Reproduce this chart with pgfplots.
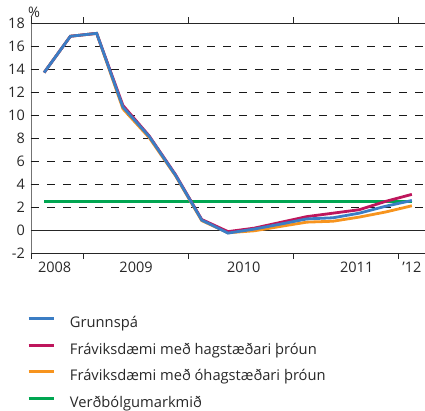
\documentclass[border=0pt]{standalone}
\usepackage{pgfplots}
\pgfplotsset{compat=1.18}
\usepackage{fontspec}
\setmainfont{Open Sans}
\definecolor{cblue}{RGB}{59,125,196}
\definecolor{cred}{RGB}{190,22,92}
\definecolor{corange}{RGB}{247,148,30}
\definecolor{cgreen}{RGB}{0,166,81}
\definecolor{ctext}{RGB}{40,40,40}
\begin{document}
\begin{tikzpicture}
\path[use as bounding box] (-31pt,-157.5pt) rectangle (394pt,253.5pt);
\begin{axis}[
  at={(0,0)}, anchor=south west,
  scale only axis,
  width=394pt, height=230.5pt,
  xmin=-0.5, xmax=14.5,
  ymin=-2, ymax=18,
  axis x line*=box,
  axis y line*=left,
  axis line style={black!85, line width=0.9pt},
  x axis line style={-},
  y axis line style={-, black!55},
  major tick length=5.5pt,
  xtick={-0.5,1.5,5.5,9.5,13.5},
  xticklabels={},
  xtick align=outside,
  xtick style={black!85, line width=0.9pt},
  extra x ticks={0.4,3.5,7.6,11.9,14.0},
  extra x tick labels={2008,2009,2010,2011,{'}12},
  extra x tick style={major tick length=0pt, xticklabel style={yshift=-8pt}},
  ytick={-2,0,...,18},
  ytick style={black!85, line width=0.9pt},
  ytick align=inside,
  yticklabel style={inner sep=0pt, xshift=-6pt},
  tick label style={font=\fontsize{14.5}{16}\selectfont, text=ctext},
  /pgf/number format/assume math mode=true,
  xticklabel style={inner sep=0pt, anchor=north},
  legend style={
    at={(axis description cs:0,0)}, anchor=north west,
    xshift=-4pt, yshift=-62pt,
    draw=none, fill=none, inner sep=0pt,
    font=\fontsize{14.7}{17}\selectfont,
    text=ctext,
    row sep=10.5pt,
    column sep=15pt,
    nodes={inner sep=0pt, text height=12pt, text depth=4pt},
  },
  legend cell align=left,
  legend image code/.code={\draw[#1] (0pt,5pt) -- (25pt,5pt);},
  clip=false,
  gridline/.style={black!90, line width=1pt, dash pattern=on 8pt off 8pt, dash phase=0pt, forget plot},
]
\addlegendimage{cblue, line width=2.8pt}
\addlegendentry{Grunnspá}
\addlegendimage{cred, line width=2.8pt}
\addlegendentry{Fráviksdæmi með hagstæðari þróun}
\addlegendimage{corange, line width=2.8pt}
\addlegendentry{Fráviksdæmi með óhagstæðari þróun}
\addlegendimage{cgreen, line width=2.8pt}
\addlegendentry{Verðbólgumarkmið}

% grid lines
\addplot[gridline] coordinates {(-0.5,2) (14.5,2)};
\addplot[gridline] coordinates {(-0.5,4) (14.5,4)};
\addplot[gridline] coordinates {(-0.5,6) (14.5,6)};
\addplot[gridline] coordinates {(-0.5,8) (14.5,8)};
\addplot[gridline] coordinates {(-0.5,10) (14.5,10)};
\addplot[gridline] coordinates {(-0.5,12) (14.5,12)};
\addplot[gridline] coordinates {(-0.5,14) (14.5,14)};
\addplot[gridline] coordinates {(-0.5,16) (14.5,16)};
% zero line and top line
\addplot[black!85, line width=0.9pt, forget plot] coordinates {(-0.5,0) (14.5,0)};
\addplot[black!85, line width=0.9pt, forget plot] coordinates {(-0.5,18) (14.5,18)};
% Verðbólgumarkmið
\addplot[cgreen, line width=2.8pt, forget plot] coordinates {(0,2.5) (14,2.5)};
% óhagstæðari
\addplot[corange, line width=2.8pt, forget plot] coordinates {
(0,13.7) (1,16.85) (2,17.1) (3,10.55) (4,8.05) (5,4.75) (6,0.85) (7,-0.2) (8,-0.03) (9,0.35) (10,0.72) (11,0.8) (12,1.16) (13,1.6) (14,2.14)};
% hagstæðari
\addplot[cred, line width=2.8pt, forget plot] coordinates {
(0,13.7) (1,16.85) (2,17.1) (3,10.85) (4,8.2) (5,4.85) (6,0.95) (7,-0.1) (8,0.2) (9,0.7) (10,1.2) (11,1.5) (12,1.8) (13,2.52) (14,3.13)};
% Grunnspá
\addplot[cblue, line width=2.8pt, forget plot] coordinates {
(0,13.7) (1,16.85) (2,17.1) (3,10.7) (4,8.15) (5,4.8) (6,0.9) (7,-0.23) (8,0.12) (9,0.55) (10,1.0) (11,1.1) (12,1.5) (13,2.1) (14,2.6)};

\node[font=\fontsize{14.5}{16}\selectfont, text=ctext, inner sep=0pt] at ([xshift=3pt, yshift=11pt]rel axis cs:0,1) {\%};
\end{axis}
\end{tikzpicture}
\end{document}
